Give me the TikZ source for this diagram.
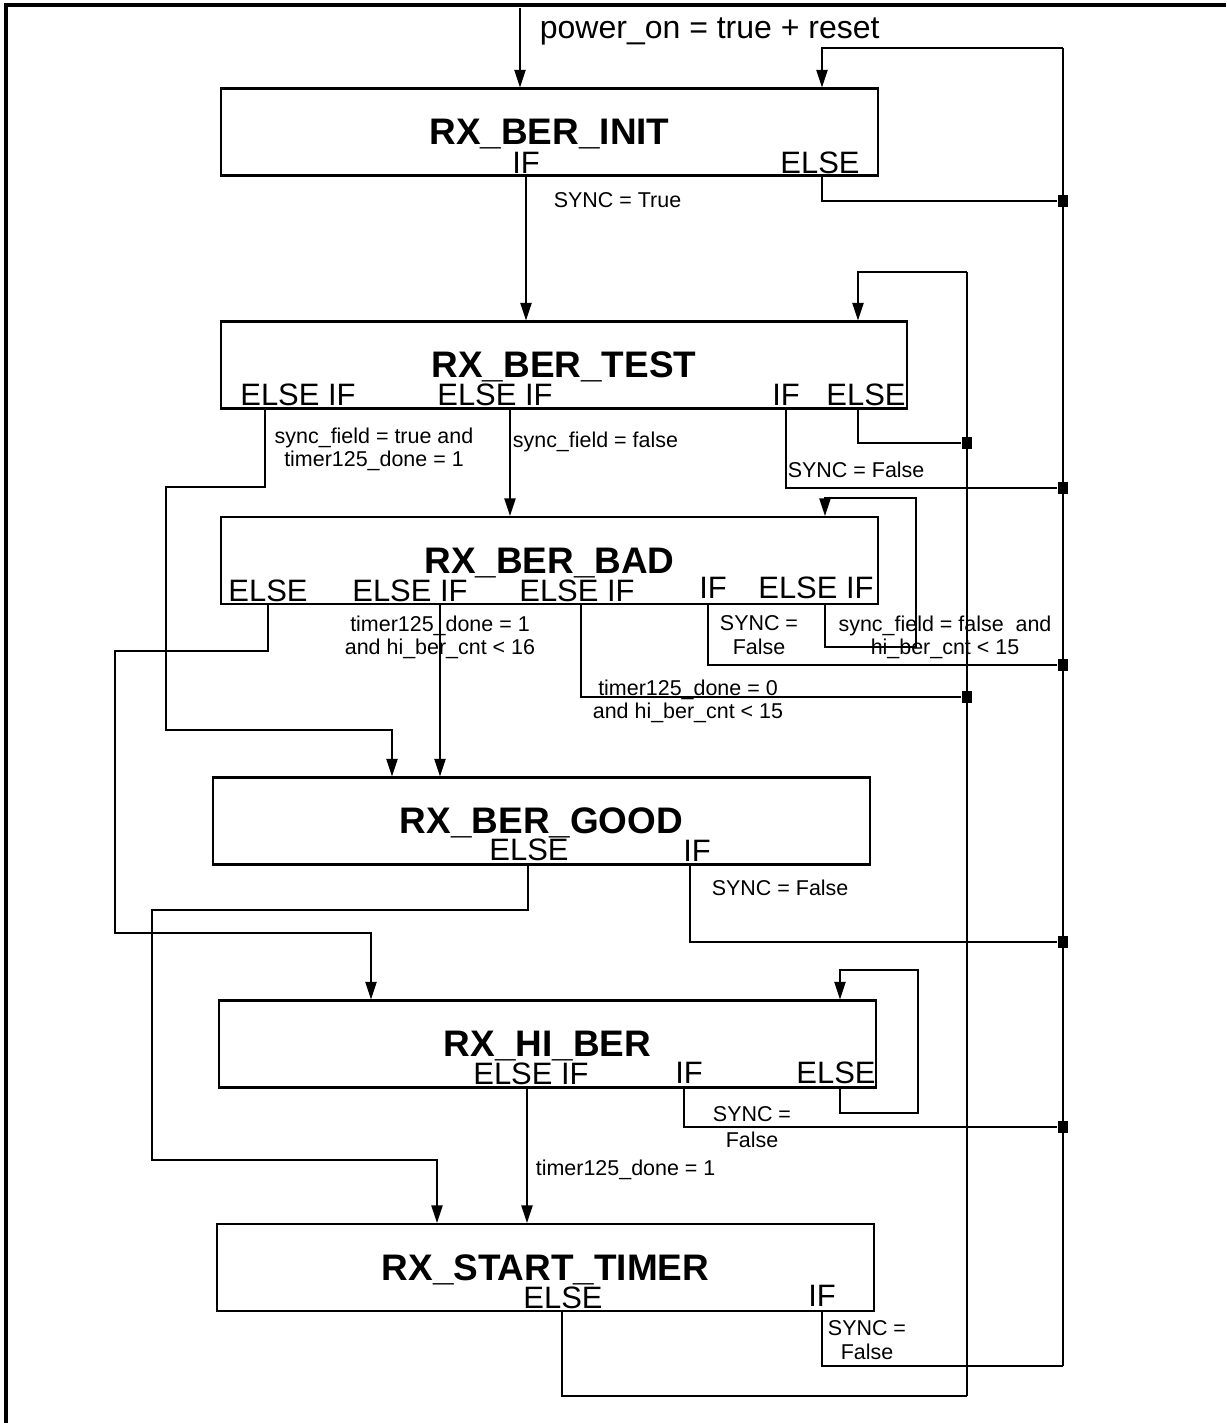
\documentclass[tikz,border=0pt]{standalone}
\usepackage{fontspec}
\setmainfont{Liberation Sans}
\usepackage{tikz}
\usetikzlibrary{arrows.meta}
\newcommand{\statefont}{\fontsize{10.5}{12}\selectfont\bfseries}
\newcommand{\portfont}{\fontsize{8.8}{10}\selectfont}
\newcommand{\pwrfont}{\fontsize{9.1}{10}\selectfont}
\newcommand{\condfont}{\fontsize{6.1}{6.6}\selectfont}
\begin{document}
\begin{tikzpicture}[x=0.01cm,y=-0.01cm,>={Triangle[length=5pt,width=3.2pt]},line width=0.5pt]
\tikzstyle{box}=[draw,line width=0.6pt,minimum width=6.57cm,minimum height=0.87cm,inner sep=0pt,text depth=0pt,font=\statefont]
\tikzstyle{port}=[inner sep=0pt,anchor=base,font=\portfont]
\tikzstyle{cond}=[inner sep=0pt,align=center,font=\condfont]
\tikzstyle{dot}=[fill,inner sep=0pt,minimum width=0.1cm,minimum height=0.12cm]
\useasboundingbox (0,0) rectangle (1226,1423);
\draw[line width=0.9pt] (6,1423) -- (6,5) -- (1226,5);

% states
\node[box] (init) at (549.5,132) {RX\_BER\_INIT};
\node[box,minimum width=6.86cm] (test) at (564,365) {RX\_BER\_TEST};
\node[box] (bad) at (549.5,560.5) {RX\_BER\_BAD};
\node[box] (good) at (541.5,821) {RX\_BER\_GOOD};
\node[box] (hiber) at (547.5,1044) {RX\_HI\_BER};
\node[box] (start) at (545.5,1267.5) {RX\_START\_TIMER};

% branch names
\node[port] (initif) at (526,173) {IF};
\node[port] (initelse) at (820,173) {ELSE};
\node[port] (testelseifa) at (298,405) {ELSE IF};
\node[port] (testelseifb) at (495,405) {ELSE IF};
\node[port] (testif) at (786,405) {IF};
\node[port] (testelse) at (866,405) {ELSE};
\node[port] (badelse) at (268,601) {ELSE};
\node[port] (badelseifa) at (410,601) {ELSE IF};
\node[port] (badelseifb) at (577,601) {ELSE IF};
\node[port] (badif) at (713,598) {IF};
\node[port] (badelseifc) at (816,598) {ELSE IF};
\node[port] (goodelse) at (529,860) {ELSE};
\node[port] (goodif) at (697,861) {IF};
\node[port] (hiberelseif) at (531,1084) {ELSE IF};
\node[port] (hiberif) at (689,1083) {IF};
\node[port] (hiberelse) at (836,1083) {ELSE};
\node[port] (startelse) at (563,1308) {ELSE};
\node[port] (startif) at (822,1306) {IF};

% conditions
\node[anchor=base west,inner sep=0pt,font=\pwrfont] (pwrlbl) at (539,38) {power\_on = true + reset};
\node[cond,anchor=base west] (c1) at (553,207) {SYNC = True};
\node[cond] (c2) at (374,449) {sync\_field = true and\\timer125\_done = 1};
\node[cond,anchor=base west] (c3) at (512,447) {sync\_field = false};
\node[cond,anchor=base west] (c4) at (787,477) {SYNC = False};
\node[cond] (c5) at (759,635) {SYNC =\\False};
\node[cond] (c6) at (945,637) {sync\_field = false\ \ and\\hi\_ber\_cnt < 15};
\node[cond] (c7) at (440,637) {timer125\_done = 1\\and hi\_ber\_cnt < 16};
\node[cond] (c8) at (688,701) {timer125\_done = 0\\and hi\_ber\_cnt < 15};
\node[cond,anchor=base west] (c9) at (711,895) {SYNC = False};
\node[cond] (c10) at (752,1127) {SYNC =\\[1pt]False};
\node[cond,anchor=base west] (c11) at (535,1175) {timer125\_done = 1};
\node[cond] (c12) at (867,1340) {SYNC =\\False};

% return buses
\coordinate (pwr) at (520,8);
\coordinate (busAtop) at (1063,48);
\coordinate (busAbot) at (1063,1366);
\coordinate (busBtop) at (967,272);
\coordinate (busBbot) at (967,1396);
\draw[->] (pwr) -- (init.north -| pwr);
\draw (busAbot) -- (busAtop);
\draw[->] (busAtop) -| (init.north -| 822,0);
\draw (busBbot) -- (busBtop);
\draw[->] (busBtop) -| (test.north -| 858,0);
\node[dot] (a1) at (1063,201) {};
\node[dot] (a2) at (1063,488) {};
\node[dot] (a3) at (1063,665) {};
\node[dot] (a4) at (1063,942) {};
\node[dot] (a5) at (1063,1127) {};
\node[dot] (b1) at (967,443) {};
\node[dot] (b2) at (967,697) {};

% RX_BER_INIT
\draw[->] (init.south -| 526,0) -- (test.north -| 526,0);
\draw (init.south -| 822,0) |- (a1);
% RX_BER_TEST
\draw (test.south -| 858,0) |- (b1);
\draw (test.south -| 786,0) |- (a2);
\draw[->] (test.south -| 510,0) -- (bad.north -| 510,0);
\draw[->] (test.south -| 265,0) |- (166,487) |- (392,730) -- (good.north -| 392,0);
% RX_BER_BAD
\draw[->] (bad.south -| 825,0) |- (916,647) |- (825,498) -- (bad.north -| 825,0);
\draw (bad.south -| 708,0) |- (a3);
\draw (bad.south -| 581,0) |- (b2);
\draw[->] (bad.south -| 440,0) -- (good.north -| 440,0);
\draw[->] (bad.south -| 268,0) |- (115,651) |- (371,933) -- (hiber.north -| 371,0);
% RX_BER_GOOD
\draw (good.south -| 690,0) |- (a4);
\draw[->] (good.south -| 528,0) |- (152,910) |- (437,1160) -- (start.north -| 437,0);
% RX_HI_BER
\draw[->] (hiber.south -| 840,0) |- (918,1113) |- (840,970) -- (hiber.north -| 840,0);
\draw (hiber.south -| 684,0) |- (a5);
\draw[->] (hiber.south -| 527,0) -- (start.north -| 527,0);
% RX_START_TIMER
\draw (start.south -| 822,0) |- (busAbot);
\draw (start.south -| 562,0) |- (busBbot);
\end{tikzpicture}
\end{document}
